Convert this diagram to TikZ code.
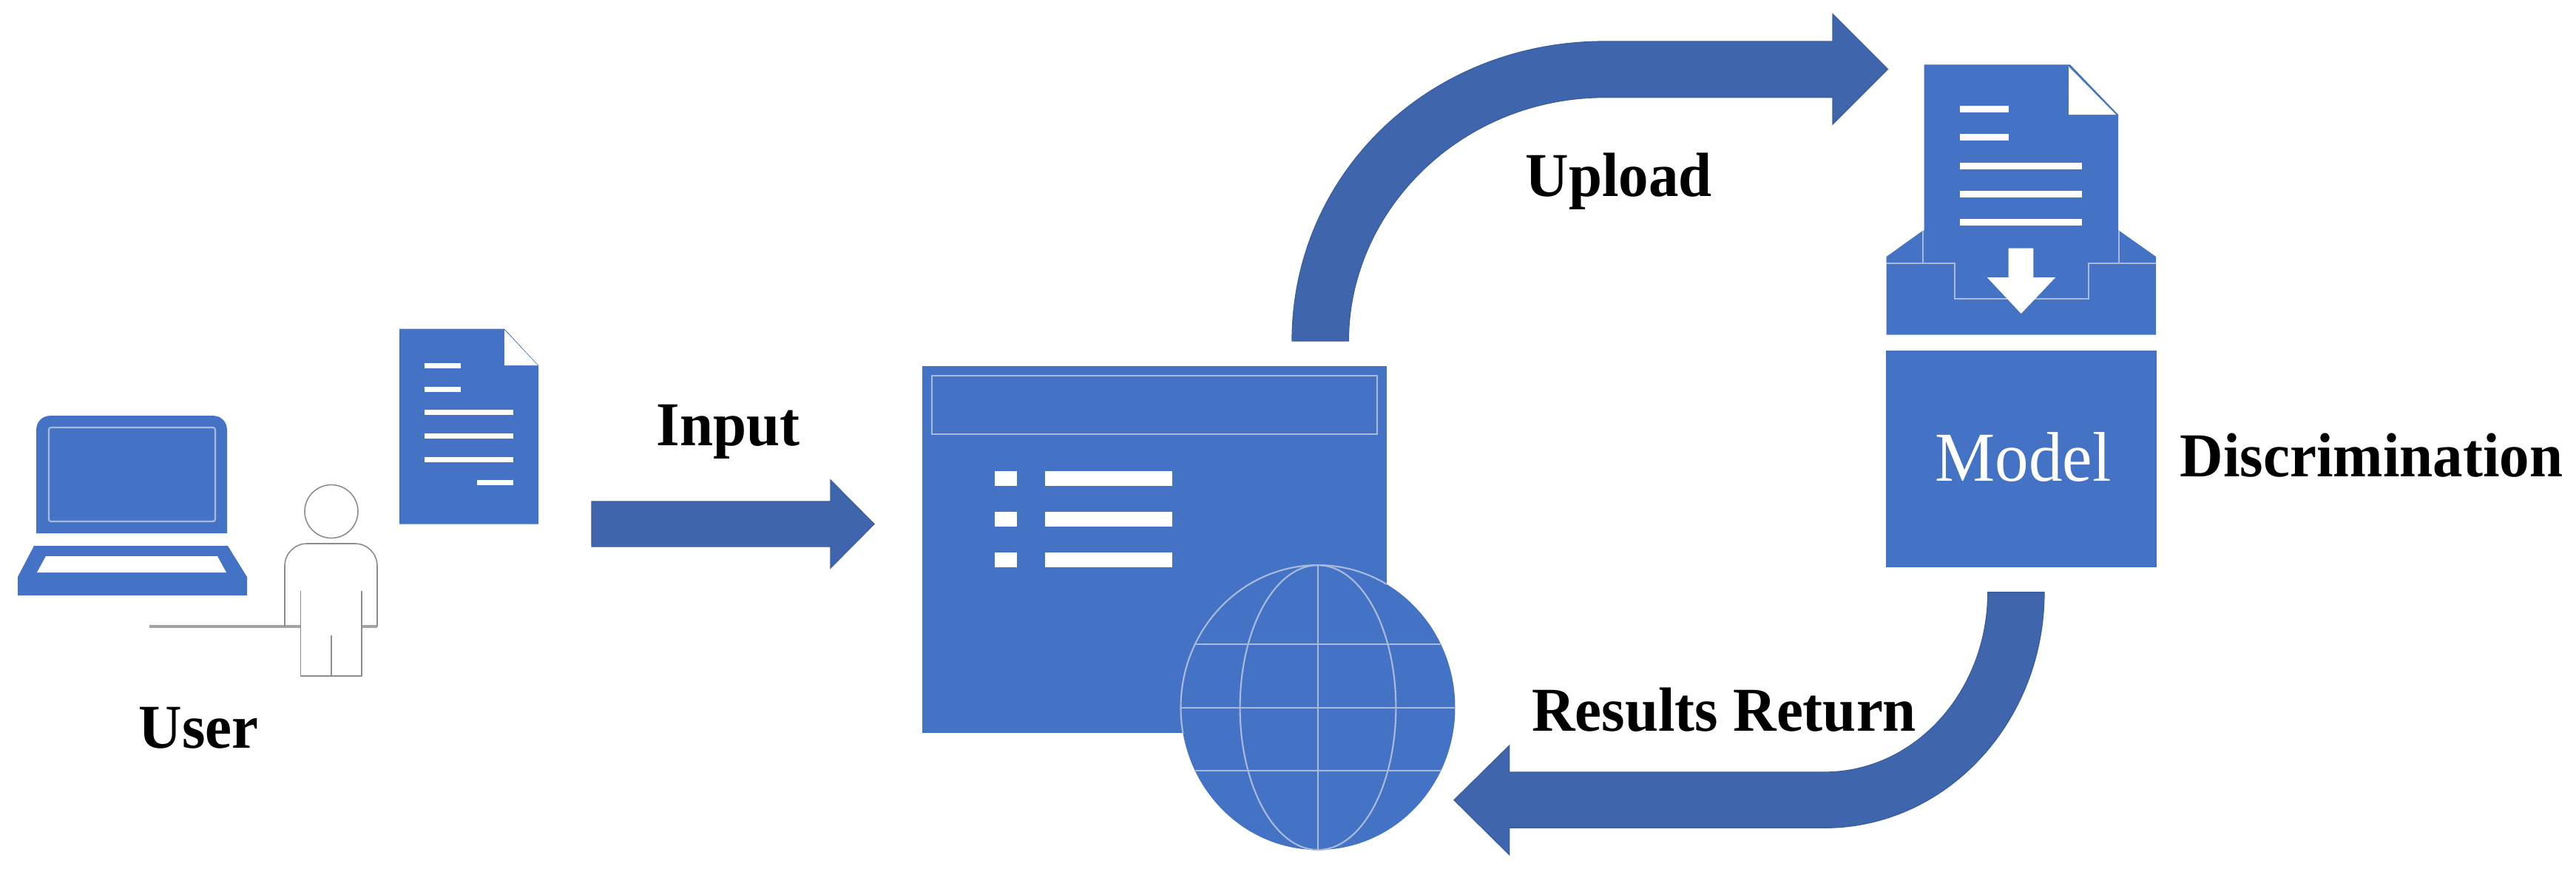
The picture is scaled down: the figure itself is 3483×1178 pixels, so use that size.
\documentclass[tikz,border=0pt]{standalone}
\usepackage{fontspec}
\setmainfont{Liberation Serif}
\definecolor{iconblue}{HTML}{4472C4}
\definecolor{arrowblue}{HTML}{3F65AD}
\definecolor{arrowedge}{HTML}{3A5E9F}
\definecolor{iconline}{HTML}{A9BADA}
\definecolor{personline}{HTML}{8C8C8C}
\tikzset{
  icon/.style={fill=iconblue,draw=none},
  blankbar/.style={fill=white,draw=none},
  iconrule/.style={draw=iconline,line width=.6pt},
  personrule/.style={draw=personline,line width=.45pt,line join=round},
  blockarrow/.style={fill=arrowblue,draw=arrowedge,line width=.35pt,line join=miter},
  boldlabel/.style={anchor=base west,inner sep=0pt,xscale=.96,transform shape,font=\fontsize{24pt}{27pt}\selectfont\bfseries,text=black},
  modellabel/.style={anchor=base west,inner sep=0pt,xscale=.96,transform shape,font=\fontsize{27pt}{30pt}\selectfont,text=white}
}
\begin{document}
\begin{tikzpicture}[x=0.01cm,y=-0.01cm]
\useasboundingbox (0,0) rectangle (3483,1178);
\fill[white] (0,0) rectangle (3483,1178);

% laptop
\path[icon] (49,721) -- (49,582) .. controls (49,570) and (57,562) .. (69,562) -- (287,562) .. controls (299,562) and (307,570) .. (307,582) -- (307,721) -- cycle;
\draw[iconrule,rounded corners=.03cm] (66,578) rectangle (291,705);
\path[icon] (46,738) -- (308,738) -- (334,780) -- (334,805) -- (24,805) -- (24,780) -- cycle;
\path[blankbar] (62,752) -- (294,752) -- (306,774) -- (50,774) -- cycle;

% person
\draw[personrule,line width=.9pt,draw=personline!80] (202,847) -- (406.5,847) (489,847) -- (510,847);
\draw[personrule] (448,691.5) ellipse [x radius=36,y radius=36];
\draw[personrule,rounded corners=.3cm] (385,847) -- (385,735) -- (510,735) -- (510,847);
\draw[personrule] (406.5,799) -- (406.5,914) -- (489,914) -- (489,799);
\draw[personrule] (448,859) -- (448,914);

% first document
\path[icon] (540,444.5) -- (682,444.5) -- (728,494) -- (728,708.5) -- (540,708.5) -- cycle;
\path[blankbar] (682,446) -- (727,494) -- (682,494) -- cycle;
\foreach \yy in {494,526}{\path[blankbar] (574,\yy-3.5) rectangle (623,\yy+3.5);}
\foreach \yy in {557.5,589,621}{\path[blankbar] (574,\yy-3.5) rectangle (694,\yy+3.5);}
\path[blankbar] (645,648.5) rectangle (694,655.5);

% input arrow
\path[blockarrow] (800,678) -- (1123,678) -- (1123,649) -- (1182,708.5) -- (1123,768) -- (1123,739) -- (800,739) -- cycle;

% window
\path[icon] (1246.5,494.5) rectangle (1874.6,991);
\draw[iconrule] (1260,508) rectangle (1862,587);
\foreach \yy in {636.5,692,747}{
  \path[blankbar] (1344.5,\yy) rectangle (1375,\yy+20);
  \path[blankbar] (1413,\yy) rectangle (1585,\yy+20);
}

% globe
\path[icon] (1782,956.6) ellipse [x radius=185.5,y radius=192.5];
\begin{scope}
  \clip (1246.5,494.5) rectangle (1874.6,991);
  \draw[iconrule] (1782,956.6) ellipse [x radius=185.5,y radius=192.5];
\end{scope}
\draw[iconrule] (1782,956.6) ellipse [x radius=105.4,y radius=192.5];
\draw[iconrule] (1782,764.1) -- (1782,1149.1);
\draw[iconrule] (1615.4,871) -- (1948.6,871);
\draw[iconrule] (1596.5,956.6) -- (1967.5,956.6);
\draw[iconrule] (1615.4,1042) -- (1948.6,1042);

% upload arrow
\path[blockarrow] (1747,461) .. controls (1747,237.3) and (1930,56) .. (2170,56)
  -- (2478,56) -- (2478,19) -- (2552.5,93.5) -- (2478,168) -- (2478,131.7) -- (2170,131.7)
  .. controls (1975,131.7) and (1823.4,285) .. (1823.4,461) -- cycle;

% return arrow
\path[blockarrow] (2687.7,800.7) -- (2764,800.7) .. controls (2764,976.7) and (2630.9,1119.3) .. (2466.7,1119.3)
  -- (2040.7,1119.3) -- (2040.7,1155.7) -- (1966,1081.7) -- (2040.7,1008) -- (2040.7,1044) -- (2466.7,1044)
  .. controls (2588.9,1044) and (2687.7,935.1) .. (2687.7,800.7) -- cycle;

% tray with document
\path[icon] (2550.7,347) -- (2600,311.7) -- (2865,311.7) -- (2915,347) -- (2915,452.7) -- (2550.7,452.7) -- cycle;
\path[icon] (2601.7,87.3) -- (2799,87.3) -- (2864,155) -- (2864,355.7) -- (2601.7,355.7) -- cycle;
\path[blankbar] (2797,90) -- (2861,155) -- (2797,155) -- cycle;
\foreach \yy in {147.7,185.7}{\path[blankbar] (2650,\yy-4.5) rectangle (2715.7,\yy+4.5);}
\foreach \yy in {224,262,300}{\path[blankbar] (2650,\yy-4.5) rectangle (2815,\yy+4.5);}
\draw[iconrule] (2600,311.7) -- (2600,355.7) (2865,311.7) -- (2865,355.7);
\draw[iconrule] (2550.7,355.7) -- (2642.7,355.7) -- (2642.7,404.3) -- (2824,404.3) -- (2824,355.7) -- (2915,355.7);
\path[blankbar] (2715.7,335.7) -- (2749.3,335.7) -- (2749.3,375) -- (2779.3,375) -- (2732.7,424) -- (2686.7,375) -- (2715.7,375) -- cycle;

% model box
\path[icon] (2550,474.3) rectangle (2915.7,766.7);
\node[modellabel] (model) at (2616,650) {Model};

% labels
\node[boldlabel] (input)   at (887,602)    {Input};
\node[boldlabel] (user)    at (187,1011)   {User};
\node[boldlabel] (upload)  at (2062,265)   {Upload};
\node[boldlabel] (results) at (2070.5,988) {Results Return};
\node[boldlabel] (discr)   at (2947,644)   {Discrimination};
\end{tikzpicture}
\end{document}
